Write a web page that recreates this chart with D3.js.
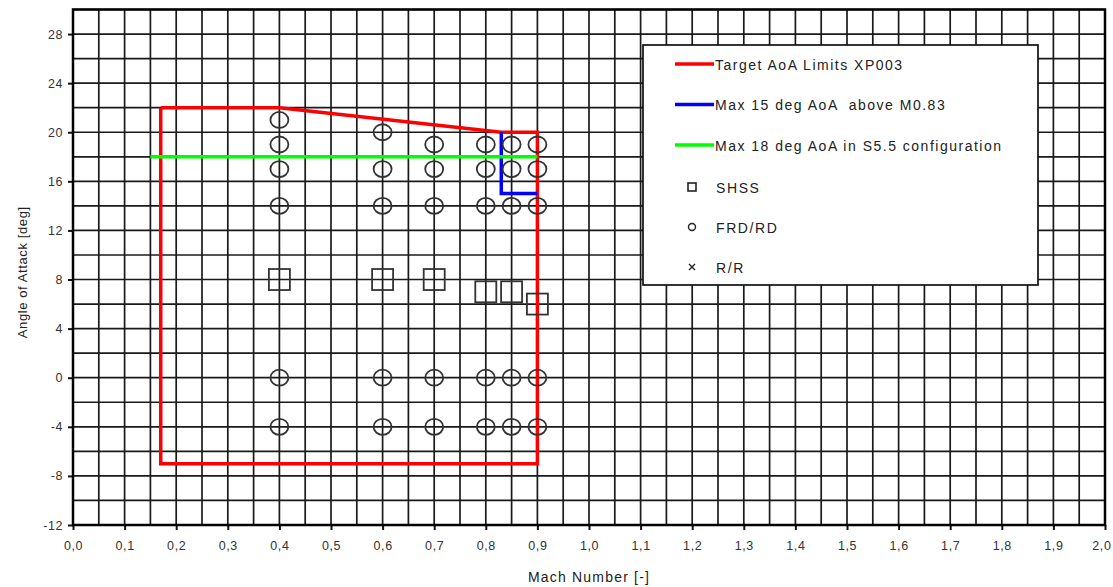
<!DOCTYPE html>
<html>
<head>
<meta charset="utf-8">
<script src="https://cdn.jsdelivr.net/npm/d3@7"></script>
<style>
  body { margin: 0; background: #fff; }
  text { font-family: "Liberation Sans", Arial, sans-serif; }
</style>
</head>
<body>
<div id="chart"></div>
<script>
// AoA envelope lines
const targetLimits = [[0.17, 22], [0.4, 22], [0.83, 20], [0.9, 20], [0.9, -7], [0.17, -7], [0.17, 22]];
const maxAbove083 = [[0.83, 20], [0.83, 15], [0.9, 15]];
const maxS55 = [[0.15, 18], [0.9, 18]];

// test points
const shssPoints = [[0.4, 8], [0.6, 8], [0.7, 8], [0.8, 7], [0.85, 7], [0.9, 6]];
const frdPoints = [
  [0.4, 21], [0.4, 19], [0.4, 17], [0.4, 14], [0.4, 0], [0.4, -4],
  [0.6, 20], [0.6, 17], [0.6, 14], [0.6, 0], [0.6, -4],
  [0.7, 19], [0.7, 17], [0.7, 14], [0.7, 0], [0.7, -4],
  [0.8, 19], [0.8, 17], [0.8, 14], [0.8, 0], [0.8, -4],
  [0.85, 19], [0.85, 17], [0.85, 14], [0.85, 0], [0.85, -4],
  [0.9, 19], [0.9, 17], [0.9, 14], [0.9, 0], [0.9, -4]
];

const xTicks = d3.range(0, 2.001, 0.1);
const yTicks = d3.range(-12, 29, 4);

const legendLines = [
  { label: "Target AoA Limits XP003", color: "#ff0000" },
  { label: "Max 15 deg AoA  above M0.83", color: "#0000ff" },
  { label: "Max 18 deg AoA in S5.5 configuration", color: "#00ff00" }
];
const legendSymbols = ["SHSS", "FRD/RD", "R/R"];

const W = 1113, H = 587;
const margin = { top: 9.5, right: 8, bottom: 62, left: 73 };
const width = W - margin.left - margin.right;
const height = H - margin.top - margin.bottom;

const svg = d3.select("#chart").append("svg")
  .attr("width", W)
  .attr("height", H)
  .append("g")
  .attr("transform", `translate(${margin.left},${margin.top})`);

const x = d3.scaleLinear().domain([0, 2]).range([0, width]);
const y = d3.scaleLinear().domain([-12, 30]).range([height, 0]);

// grid
svg.append("g").selectAll("line")
  .data(d3.range(0, 2.001, 0.05))
  .enter().append("line")
  .attr("x1", d => x(d)).attr("x2", d => x(d))
  .attr("y1", 0).attr("y2", height)
  .attr("stroke", "#1a1a1a").attr("stroke-width", 1.7);

svg.append("g").selectAll("line")
  .data(d3.range(-12, 30.1, 2))
  .enter().append("line")
  .attr("x1", 0).attr("x2", width)
  .attr("y1", d => y(d)).attr("y2", d => y(d))
  .attr("stroke", "#1a1a1a").attr("stroke-width", 1.7);

// axes
const fmtX = d => d3.format(".1f")(d).replace(".", ",");
const xAxis = svg.append("g")
  .attr("transform", `translate(0,${height})`)
  .call(d3.axisBottom(x).tickValues(xTicks).tickFormat(fmtX).tickSize(5).tickPadding(11));
const yAxis = svg.append("g")
  .call(d3.axisLeft(y).tickValues(yTicks).tickFormat(d => String(d)).tickSize(5).tickPadding(5));

[xAxis, yAxis].forEach(a => {
  a.select(".domain").remove();
  a.selectAll("line").attr("stroke", "#111").attr("stroke-width", 2);
  a.selectAll("text")
    .attr("font-size", "12.5px")
    .attr("letter-spacing", "0.6px")
    .attr("fill", "#333")
    .attr("font-family", "'Liberation Sans', Arial, sans-serif");
});
// last x label sits on the right edge, keep it inside the page
xAxis.selectAll(".tick:last-of-type text").attr("text-anchor", "end").attr("dx", "6px");

// plot frame
svg.append("rect")
  .attr("x", 0).attr("y", 0)
  .attr("width", width).attr("height", height)
  .attr("fill", "none")
  .attr("stroke", "#000")
  .attr("stroke-width", 2.5);

// legend box
const lg = svg.append("g").attr("transform", `translate(${643 - margin.left},${45 - margin.top})`);
lg.append("rect")
  .attr("width", 395).attr("height", 240)
  .attr("fill", "#fff")
  .attr("stroke", "#111").attr("stroke-width", 1.7);

const line = d3.line().x(d => x(d[0])).y(d => y(d[1]));

svg.append("path").datum(targetLimits)
  .attr("d", line).attr("fill", "none")
  .attr("stroke", "#ff0000").attr("stroke-width", 3.5);
svg.append("path").datum(maxAbove083)
  .attr("d", line).attr("fill", "none")
  .attr("stroke", "#0000ff").attr("stroke-width", 3.5);
svg.append("path").datum(maxS55)
  .attr("d", line).attr("fill", "none")
  .attr("stroke", "#00ff00").attr("stroke-width", 3.5);

// markers
svg.append("g").selectAll("ellipse")
  .data(frdPoints)
  .enter().append("ellipse")
  .attr("cx", d => x(d[0])).attr("cy", d => y(d[1]))
  .attr("rx", 9).attr("ry", 8)
  .attr("fill", "none")
  .attr("stroke", "#333").attr("stroke-width", 1.8);

svg.append("g").selectAll("rect")
  .data(shssPoints)
  .enter().append("rect")
  .attr("x", d => x(d[0]) - 10.5).attr("y", d => y(d[1]) - 10.5)
  .attr("width", 21).attr("height", 21)
  .attr("fill", "none")
  .attr("stroke", "#333").attr("stroke-width", 1.8);

// legend entries
legendLines.forEach((d, i) => {
  const yy = 19 + i * 40.5;
  lg.append("line")
    .attr("x1", 32).attr("x2", 71)
    .attr("y1", yy).attr("y2", yy)
    .attr("stroke", d.color).attr("stroke-width", 3.5);
  lg.append("text")
    .attr("x", 72).attr("y", yy + 5.5)
    .attr("font-size", "14px").attr("letter-spacing", "1.5px")
    .attr("fill", "#222")
    .style("white-space", "pre")
    .text(d.label);
});

legendSymbols.forEach((label, i) => {
  const yy = 142 + i * 40;
  if (i === 0) {
    lg.append("rect").attr("x", 45).attr("y", yy - 4).attr("width", 8).attr("height", 8)
      .attr("fill", "none").attr("stroke", "#222").attr("stroke-width", 1.6);
  } else if (i === 1) {
    lg.append("circle").attr("cx", 49).attr("cy", yy).attr("r", 3.5)
      .attr("fill", "none").attr("stroke", "#222").attr("stroke-width", 1.4);
  } else {
    lg.append("path").attr("d", `M${46},${yy - 3}L${52},${yy + 3}M${52},${yy - 3}L${46},${yy + 3}`)
      .attr("stroke", "#222").attr("stroke-width", 1.4);
  }
  lg.append("text")
    .attr("x", 73).attr("y", yy + 5.5)
    .attr("font-size", "14px").attr("letter-spacing", "1.6px")
    .attr("fill", "#222")
    .text(label);
});

// axis titles
svg.append("text")
  .attr("x", width / 2).attr("y", height + 57)
  .attr("text-anchor", "middle")
  .attr("font-size", "14px").attr("letter-spacing", "1.2px")
  .attr("fill", "#222")
  .text("Mach Number [-]");

svg.append("text")
  .attr("transform", "rotate(-90)")
  .attr("x", -(height / 2 + 5)).attr("y", -46)
  .attr("text-anchor", "middle")
  .attr("font-size", "13px").attr("letter-spacing", "0.6px")
  .attr("fill", "#222")
  .text("Angle of Attack [deg]");
</script>
</body>
</html>
